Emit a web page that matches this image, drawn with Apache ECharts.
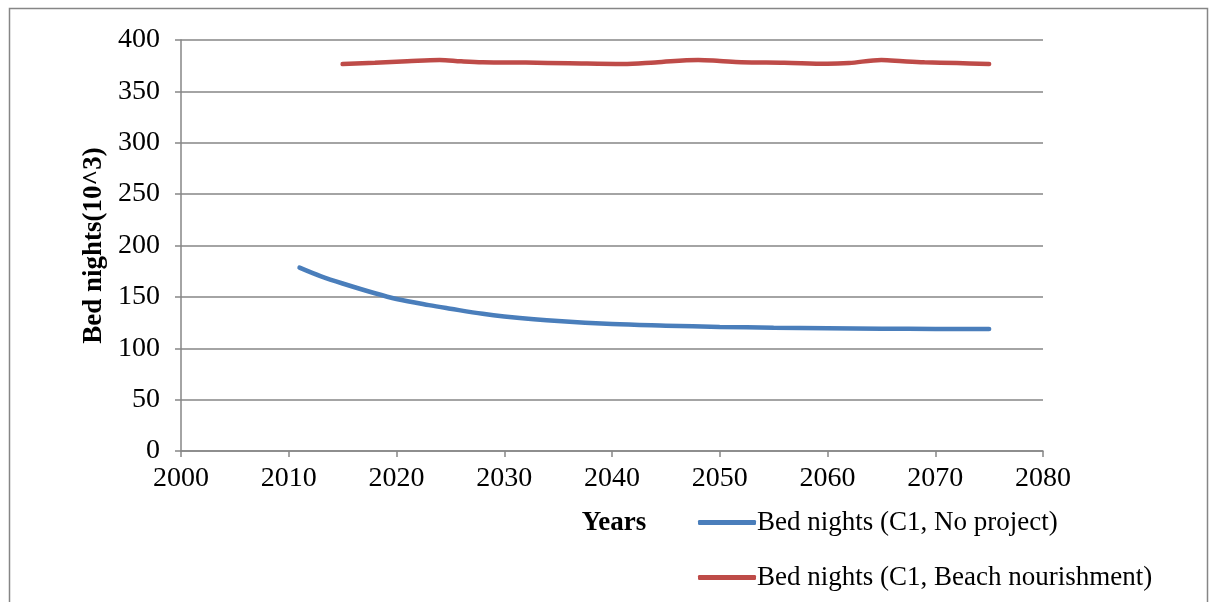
<!DOCTYPE html>
<html>
<head>
<meta charset="utf-8">
<script src="https://cdn.jsdelivr.net/npm/echarts@6/dist/echarts.min.js"></script>
<style>
  html, body { margin: 0; padding: 0; background: #ffffff; }
  #chart { width: 1211px; height: 602px; }
</style>
</head>
<body>
<div id="chart"></div>
<script>
// Bed nights (thousands) per year under two scenarios
const noProjectYears = [2011, 2013, 2015, 2018, 2020, 2023, 2025, 2028, 2030, 2035, 2040, 2045, 2050, 2055, 2060, 2065, 2070, 2075];
const noProjectValues = [178.5, 170, 163, 153.5, 148, 142, 138.5, 133.5, 131, 126.5, 123.5, 122, 120.8, 120, 119.5, 119, 118.8, 118.7];

const nourishYears = [2015, 2018, 2021, 2024, 2026, 2028, 2032, 2036, 2041, 2044, 2048, 2050, 2052, 2056, 2060, 2062, 2065, 2067, 2069, 2072, 2075];
const nourishValues = [376.6, 377.8, 379.3, 380.6, 379.3, 378.4, 378.0, 377.4, 376.7, 378.2, 380.6, 379.6, 378.4, 377.8, 376.8, 377.6, 380.5, 379.3, 378.3, 377.5, 376.6];

const seriesNames = ['Bed nights (C1, No project)', 'Bed nights (C1, Beach nourishment)'];
const xAxisTitle = 'Years';
const yAxisTitle = 'Bed nights(10^3)';

const pair = (xs, ys) => xs.map((x, i) => [x, ys[i]]);

const FONT = 'Liberation Serif';
const GREY = '#868686';

const chart = echarts.init(document.getElementById('chart'), null, { renderer: 'canvas' });

chart.setOption({
  animation: false,
  backgroundColor: '#ffffff',
  grid: { left: 181, right: 168, top: 40, bottom: 151, containLabel: false },
  xAxis: {
    type: 'value',
    min: 2000, max: 2080, interval: 10,
    axisLine: { show: true, lineStyle: { color: GREY, width: 1.5 } },
    axisTick: { show: true, length: 6, lineStyle: { color: GREY, width: 1.5 } },
    splitLine: { show: false },
    axisLabel: {
      color: '#000', fontFamily: FONT, fontSize: 28, margin: 14,
      formatter: v => String(v)
    }
  },
  yAxis: {
    type: 'value',
    min: 0, max: 400, interval: 50,
    name: yAxisTitle,
    nameLocation: 'middle',
    nameRotate: 90,
    nameGap: 70,
    nameTextStyle: { color: '#000', fontFamily: FONT, fontSize: 27, fontWeight: 'bold' },
    axisLine: { show: true, lineStyle: { color: GREY, width: 1.5 } },
    axisTick: { show: true, length: 6, lineStyle: { color: GREY, width: 1.5 } },
    splitLine: { show: true, lineStyle: { color: GREY, width: 1.5 } },
    axisLabel: { color: '#000', fontFamily: FONT, fontSize: 28, margin: 21 }
  },
  legend: {
    orient: 'vertical',
    left: 693,
    top: 504,
    itemGap: 28,
    itemWidth: 58,
    itemHeight: 5,
    icon: 'roundRect',
    textStyle: { color: '#000', fontFamily: FONT, fontSize: 27, padding: [0, 0, 0, -4] },
    data: seriesNames
  },
  graphic: [
    {
      type: 'rect',
      shape: { x: 9.5, y: 8.5, width: 1198, height: 640 },
      style: { fill: 'none', stroke: GREY, lineWidth: 1.5 },
      silent: true
    },
    {
      type: 'text',
      x: 614,
      y: 523,
      style: {
        text: xAxisTitle, fill: '#000', font: 'bold 27px "Liberation Serif"',
        align: 'center', verticalAlign: 'middle'
      }
    }
  ],
  series: [
    {
      name: seriesNames[0],
      type: 'line',
      data: pair(noProjectYears, noProjectValues),
      smooth: 0.35,
      showSymbol: false,
      symbol: 'none',
      color: '#4a7ebb',
      lineStyle: { width: 4.5, color: '#4a7ebb', cap: 'round' }
    },
    {
      name: seriesNames[1],
      type: 'line',
      data: pair(nourishYears, nourishValues),
      smooth: 0.35,
      showSymbol: false,
      symbol: 'none',
      color: '#be4b48',
      lineStyle: { width: 4.5, color: '#be4b48', cap: 'round' }
    }
  ]
});
</script>
</body>
</html>
